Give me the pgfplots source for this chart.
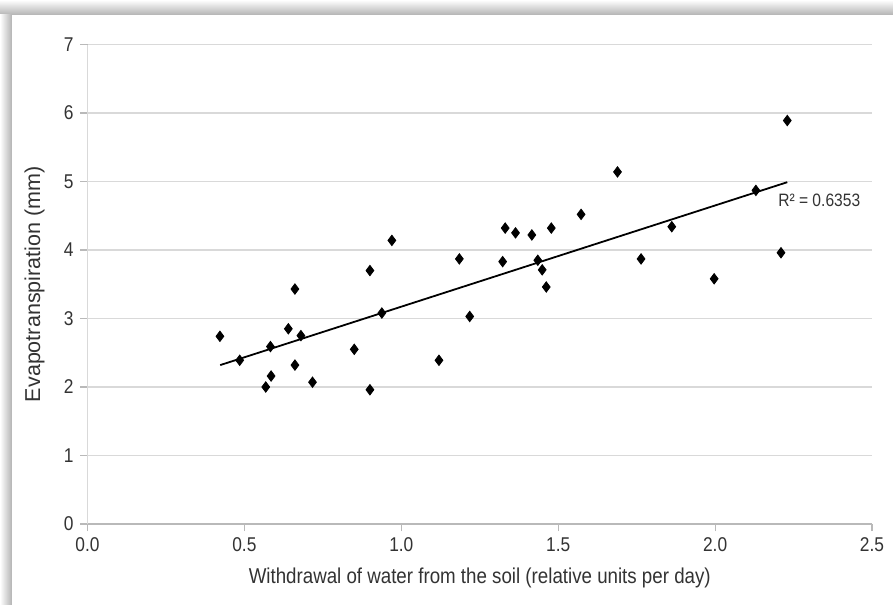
\documentclass[border=0pt]{standalone}
\usepackage{pgfplots}
\pgfplotsset{compat=1.18}
\usepackage{fontspec}
\setmainfont{Liberation Sans}[FakeStretch=0.87]
\newfontfamily\ylabfont{Liberation Sans}
\definecolor{txt}{HTML}{333333}
\definecolor{gridc}{HTML}{D9D9D9}
\begin{document}
\begin{tikzpicture}
% picture frame: 893x605 px at 0.5bp per px
\useasboundingbox (-43.75bp,-40.5bp) rectangle (402.75bp,262bp);
\fill[white] (-43.75bp,-40.5bp) rectangle (402.75bp,262bp);
\shade[top color=white, bottom color=gray!60] (-43.75bp,254.5bp) rectangle (402.75bp,262bp);
\shade[left color=white, right color=gray!60] (-43.75bp,-40.5bp) rectangle (-37.75bp,254.5bp);
\fill[white] (-37.75bp,-40.5bp) rectangle (402.75bp,254.5bp);
\begin{axis}[
  scale only axis,
  width=392.25bp, height=239.75bp,
  xmin=0, xmax=2.5, ymin=0, ymax=7,
  xtick={0,0.5,...,2.5}, ytick={0,1,...,7},
  /pgf/number format/assume math mode=true,
  xticklabel style={/pgf/number format/.cd, fixed, fixed zerofill, precision=1},
  yticklabel style={/pgf/number format/.cd, fixed, precision=0},
  ticklabel style={font=\fontsize{10}{11}\selectfont, text=txt},
  axis x line*=bottom, axis y line*=left,
  x axis line style={draw=gray!55, line width=0.8pt, -},
  y axis line style={draw=gridc, line width=0.8pt, -},
  tick align=outside, major tick length=3.5bp,
  every tick/.style={draw=gray!55, line width=0.6pt},
  ymajorgrids, grid style={draw=gridc, line width=0.8pt},
  xlabel={Withdrawal of water from the soil (relative units per day)},
  ylabel={\ylabfont Evapotranspiration (mm)},
  xlabel style={at={(axis description cs:0.5,0)}, anchor=center, yshift=-27bp, font=\fontsize{10.8}{12}\selectfont, text=txt},
  ylabel style={at={(axis description cs:-0.0676,0.5)}, anchor=center, font=\fontsize{10.8}{12}\selectfont, text=txt},
  clip=false,
]
\addplot[only marks, mark=diamond*, mark size=2.6bp, mark options={fill=black, draw=black}] coordinates {
(0.422,2.74) (0.485,2.39) (0.583,2.59) (0.585,2.16) (0.568,2.00)
(0.640,2.85) (0.661,3.43) (0.680,2.75) (0.661,2.32) (0.717,2.07)
(0.850,2.55) (0.900,3.70) (0.900,1.96) (0.938,3.08) (0.970,4.14)
(1.120,2.39) (1.218,3.03) (1.185,3.87) (1.323,3.83) (1.331,4.32)
(1.364,4.25) (1.416,4.22) (1.478,4.32) (1.435,3.85) (1.449,3.71)
(1.462,3.46) (1.573,4.52) (1.689,5.14) (1.764,3.87) (1.862,4.34)
(1.997,3.58) (2.130,4.87) (2.210,3.96) (2.230,5.89)
};
\addplot[black, line width=0.9pt, no marks] coordinates {(0.423,2.32) (2.230,4.99)};
\node[anchor=west, inner sep=0pt, font=\fontsize{9}{10}\selectfont, text=txt] at (axis cs:2.20,4.73) {R² = 0.6353};
\end{axis}
\end{tikzpicture}
\end{document}
